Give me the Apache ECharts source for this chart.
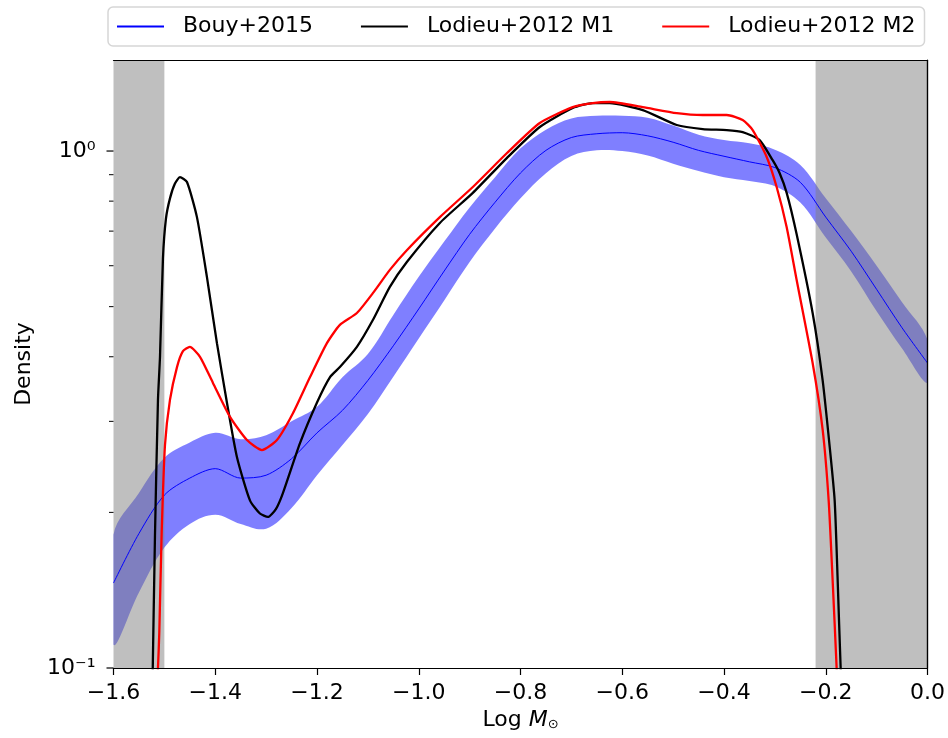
<!DOCTYPE html>
<html>
<head>
<meta charset="utf-8">
<script src="https://cdn.jsdelivr.net/npm/echarts@6/dist/echarts.min.js"></script>
<style>
  html, body { margin: 0; padding: 0; background: #fff; }
  #chart-container { width: 948px; height: 738px; }
</style>
</head>
<body>
<div id="chart-container"></div>
<script>
// Bouy+2015: median curve with its band (lower / upper)
var bouyX = [-1.60, -1.55, -1.50, -1.45, -1.40, -1.35, -1.30, -1.25, -1.20, -1.15, -1.10,
             -1.05, -1.00, -0.95, -0.90, -0.85, -0.80, -0.75, -0.70, -0.65, -0.60, -0.55,
             -0.50, -0.45, -0.40, -0.35, -0.30, -0.25, -0.20, -0.15, -0.10, -0.05, 0.00];
var bouyMid = [0.146, 0.182, 0.216, 0.233, 0.243, 0.233, 0.236, 0.254, 0.285, 0.315, 0.360,
               0.420, 0.495, 0.586, 0.690, 0.796, 0.907, 1.003, 1.062, 1.080, 1.085, 1.070,
               1.040, 1.003, 0.977, 0.953, 0.929, 0.870, 0.745, 0.640, 0.540, 0.455, 0.389];
var bouyLow = [0.111, 0.140, 0.171, 0.190, 0.198, 0.190, 0.186, 0.204, 0.236, 0.270, 0.310,
               0.366, 0.434, 0.514, 0.610, 0.708, 0.810, 0.906, 0.978, 1.003, 1.000, 0.980,
               0.945, 0.915, 0.890, 0.875, 0.855, 0.795, 0.680, 0.585, 0.490, 0.415, 0.356];
var bouyHigh = [0.181, 0.218, 0.255, 0.273, 0.285, 0.277, 0.282, 0.300, 0.320, 0.365, 0.405,
                0.482, 0.571, 0.668, 0.778, 0.890, 1.012, 1.100, 1.156, 1.170, 1.170, 1.160,
                1.120, 1.075, 1.050, 1.035, 1.006, 0.940, 0.810, 0.700, 0.600, 0.510, 0.431];

// Lodieu+2012 M1
var m1X = [-1.524, -1.5185, -1.5126, -1.5086, -1.5028, -1.4969, -1.489, -1.4792, -1.4694,
           -1.4556, -1.436, -1.4164, -1.3967, -1.377, -1.3574, -1.3318, -1.3122, -1.2965,
           -1.2808, -1.267, -1.2336, -1.2002, -1.1747, -1.155, -1.1216, -1.0902, -1.0568,
           -1.0234, -0.9585, -0.8937, -0.827, -0.7621, -0.6973, -0.658, -0.6246, -0.5597,
           -0.4929, -0.4418, -0.3947, -0.3633, -0.330, -0.3044, -0.2906, -0.2768, -0.2572,
           -0.2258, -0.2061, -0.1923, -0.1825, -0.1766, -0.1707, -0.1668];
var m1Y = [0.085, 0.18, 0.33, 0.40, 0.62, 0.74, 0.81, 0.865, 0.89,
           0.871, 0.745, 0.571, 0.425, 0.326, 0.256, 0.211, 0.199, 0.196,
           0.203, 0.218, 0.272, 0.326, 0.365, 0.382, 0.418, 0.471, 0.546,
           0.61, 0.726, 0.83, 0.969, 1.113, 1.211, 1.238, 1.238, 1.2,
           1.123, 1.103, 1.098, 1.088, 1.05, 0.96, 0.906, 0.83, 0.69,
           0.486, 0.36, 0.268, 0.211, 0.148, 0.1, 0.085];

// Lodieu+2012 M2
var m2X = [-1.5165, -1.5126, -1.510, -1.5053, -1.4988, -1.489, -1.4752, -1.4635, -1.450,
           -1.430, -1.4045, -1.371, -1.3377, -1.3082, -1.2788, -1.2473, -1.2139, -1.1805,
           -1.155, -1.1216, -1.0902, -1.0568, -1.0234, -0.9585, -0.8937, -0.827, -0.7621,
           -0.6973, -0.658, -0.6246, -0.5597, -0.4929, -0.4418, -0.3947, -0.3633, -0.3436,
           -0.3161, -0.2965, -0.2769, -0.2572, -0.2258, -0.2061, -0.1943, -0.1865, -0.1786,
           -0.1747];
var m2Y = [0.085, 0.1, 0.117, 0.183, 0.27, 0.33, 0.382, 0.41, 0.418,
           0.40, 0.356, 0.306, 0.276, 0.264, 0.276, 0.311, 0.365, 0.425,
           0.461, 0.486, 0.531, 0.589, 0.643, 0.745, 0.852, 0.99, 1.133,
           1.216, 1.238, 1.244, 1.216, 1.184, 1.174, 1.174, 1.148, 1.098,
           0.974, 0.852, 0.713, 0.563, 0.389, 0.289, 0.211, 0.148, 0.1,
           0.08];

var shadedRanges = [[-1.6, -1.5], [-0.22, 0.0]];
var yMajorTicks = [0.1, 1];
var yMinorTicks = [0.2, 0.3, 0.4, 0.5, 0.6, 0.7, 0.8, 0.9];

var FONT = 'DejaVu Sans';

function pairs(xs, ys) {
  return xs.map(function (x, i) { return [x, ys[i]]; });
}

var supDigits = { '0': '\u2070', '1': '\u00b9', '-': '\u207b' };
function powLabel(v) {
  var e = String(Math.round(Math.log10(v)));
  return '10' + e.split('').map(function (c) { return supDigits[c] || c; }).join('');
}

// y ticks as [x, value, tick length]
var yTickMarks = yMajorTicks.map(function (v) { return [-1.6, v, 7]; })
  .concat(yMinorTicks.map(function (v) { return [-1.6, v, 4.5]; }));

var dom = document.getElementById('chart-container');
var myChart = echarts.init(dom, null, { renderer: 'canvas' });

var option = {
  animation: false,
  backgroundColor: '#fff',
  textStyle: { fontFamily: FONT },
  grid: { left: 113.5, right: 20, top: 60, bottom: 70 },
  legend: {
    data: ['Bouy+2015', 'Lodieu+2012 M1', 'Lodieu+2012 M2'],
    left: 108,
    top: 7,
    itemWidth: 47,
    itemHeight: 14,
    itemGap: 47,
    padding: [7, 9, 7, 8],
    backgroundColor: '#fff',
    borderColor: '#d6d6d6',
    borderWidth: 1.5,
    borderRadius: 5,
    itemStyle: { opacity: 0 },
    textStyle: { fontSize: 22, fontFamily: FONT, color: '#000', lineHeight: 25, padding: [0, 0, 0, 14] }
  },
  xAxis: [
    {
      type: 'value',
      min: -1.6,
      max: 0,
      interval: 0.2,
      position: 'bottom',
      z: 10,
      axisLine: { lineStyle: { color: '#000', width: 1.2 } },
      axisTick: { length: 7, lineStyle: { color: '#000', width: 1.2 } },
      axisLabel: {
        fontSize: 22, color: '#000', margin: 14, fontFamily: FONT,
        formatter: function (v) {
          if (Math.abs(v) < 1e-9) return '0.0';
          return v.toFixed(1).replace('-', '\u2212');
        }
      },
      splitLine: { show: false },
      name: '{a|Log }{m|M}{s|\u2299}',
      nameLocation: 'middle',
      nameGap: 37,
      nameTextStyle: {
        color: '#000',
        rich: {
          a: { fontSize: 22, fontFamily: FONT, color: '#000' },
          m: { fontSize: 22, fontFamily: FONT, fontStyle: 'italic', color: '#000' },
          s: { fontSize: 13, fontFamily: FONT, color: '#000', padding: [10, 0, 0, 0] }
        }
      }
    },
    {
      type: 'value',
      min: -1.6,
      max: 0,
      position: 'top',
      z: 10,
      axisLine: { lineStyle: { color: '#000', width: 1.2 } },
      axisTick: { show: false, length: 0 },
      axisLabel: { show: false },
      splitLine: { show: false }
    }
  ],
  yAxis: {
    type: 'log',
    logBase: 10,
    min: 0.1,
    max: 1.5,
    position: 'left',
    z: 10,
    axisLine: { show: true, lineStyle: { color: '#000', width: 1.2 } },
    axisTick: { show: false },
    axisLabel: {
      customValues: yMajorTicks,
      fontSize: 22, color: '#000', margin: 18, fontFamily: FONT,
      formatter: powLabel
    },
    splitLine: { show: false },
    name: 'Density',
    nameLocation: 'middle',
    nameGap: 78,
    nameTextStyle: { fontSize: 22, color: '#000', fontFamily: FONT }
  },
  series: [
    {
      name: 'band',
      type: 'custom',
      z: 0,
      silent: true,
      clip: true,
      data: [[bouyX[0], bouyMid[0]]],
      renderItem: function (params, api) {
        var pts = [];
        for (var i = 0; i < bouyX.length; i++) pts.push(api.coord([bouyX[i], bouyHigh[i]]));
        for (var j = bouyX.length - 1; j >= 0; j--) pts.push(api.coord([bouyX[j], bouyLow[j]]));
        var cs = params.coordSys;
        return {
          type: 'polygon',
          shape: {
            points: pts,
            smooth: 0.35,
            smoothConstraint: [[cs.x, cs.y], [cs.x + cs.width, cs.y + cs.height]]
          },
          style: { fill: 'rgba(0,0,255,0.5)' }
        };
      }
    },
    {
      name: 'shade',
      type: 'line',
      z: 1,
      silent: true,
      data: [],
      markArea: {
        silent: true,
        z: 1,
        itemStyle: { color: 'rgba(128,128,128,0.5)' },
        data: shadedRanges.map(function (r) { return [{ xAxis: r[0] }, { xAxis: r[1] }]; })
      },
      // right spine of the frame
      markLine: {
        silent: true,
        z: 10,
        symbol: ['none', 'none'],
        label: { show: false },
        lineStyle: { color: '#000', width: 1.2, type: 'solid' },
        data: [{ xAxis: 0 }]
      }
    },
    {
      name: 'y ticks',
      type: 'custom',
      z: 10,
      silent: true,
      clip: false,
      data: yTickMarks,
      renderItem: function (params, api) {
        var p = api.coord([api.value(0), api.value(1)]);
        var len = api.value(2);
        return {
          type: 'line',
          shape: { x1: p[0] - len, y1: p[1], x2: p[0], y2: p[1] },
          style: { stroke: '#000', lineWidth: len > 5 ? 1.2 : 1 }
        };
      }
    },
    {
      name: 'Bouy+2015',
      type: 'line',
      z: 3,
      symbol: 'none',
      smooth: 0.3,
      lineStyle: { color: '#0000ff', width: 1 },
      itemStyle: { color: '#0000ff' },
      data: pairs(bouyX, bouyMid)
    },
    {
      name: 'Lodieu+2012 M1',
      type: 'line',
      z: 4,
      symbol: 'none',
      smooth: 0.2,
      lineStyle: { color: '#000000', width: 2.3 },
      itemStyle: { color: '#000000' },
      data: pairs(m1X, m1Y)
    },
    {
      name: 'Lodieu+2012 M2',
      type: 'line',
      z: 5,
      symbol: 'none',
      smooth: 0.2,
      lineStyle: { color: '#ff0000', width: 2.3 },
      itemStyle: { color: '#ff0000' },
      data: pairs(m2X, m2Y)
    }
  ]
};

myChart.setOption(option);
window.addEventListener('resize', myChart.resize);
</script>
</body>
</html>
